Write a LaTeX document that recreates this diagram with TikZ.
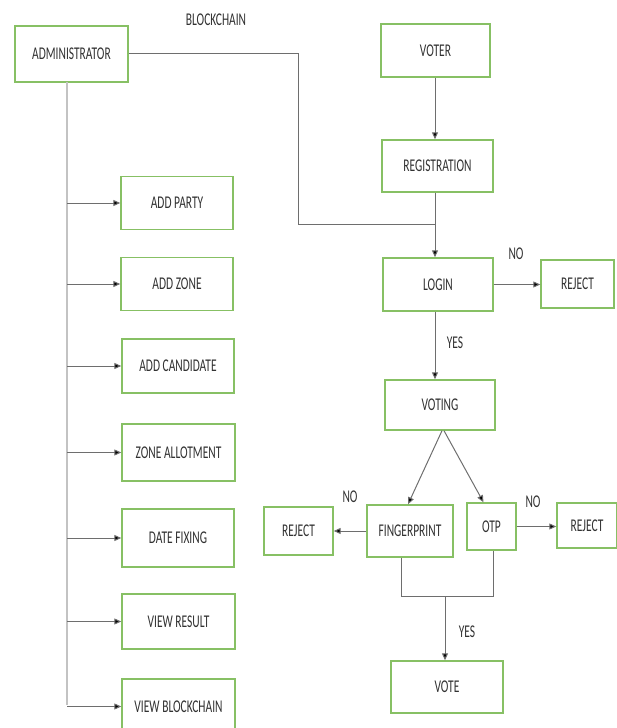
\documentclass[tikz,border=0pt]{standalone}
\usepackage{fontspec}
\usepackage{graphicx}
\setmainfont{Carlito}
\usetikzlibrary{arrows.meta}
\definecolor{bgreen}{RGB}{135,192,100}
\definecolor{lgray}{RGB}{195,195,195}
\definecolor{dgray}{RGB}{110,110,110}
\definecolor{txt}{RGB}{50,50,50}
\newcommand{\sq}[1]{\scalebox{0.64}[1]{#1}}
\begin{document}
\begin{tikzpicture}[x=1bp,y=-1bp,
  box/.style={draw=bgreen, line width=1.4bp, fill=white, inner sep=0pt,
    font=\fontsize{18}{20}\selectfont, text=txt},
  lbl/.style={inner sep=0pt, font=\fontsize{18}{20}\selectfont, text=txt},
  arr/.style={draw=dgray, line width=1bp, -{Triangle[length=7bp,width=6bp,fill=black]}},
  gline/.style={draw=dgray, line width=1bp},
  trunk/.style={draw=lgray, line width=1.4bp}]
\useasboundingbox (0,0) rectangle (617,728);
% left column
\node[box, minimum width=113bp, minimum height=56bp] (adm) at (71.5,54) {\sq{ADMINISTRATOR}};
\node[lbl] (bc) at (216,20) {\sq{BLOCKCHAIN}};
\node[box, minimum width=112bp, minimum height=53bp] (party) at (177,203) {\sq{ADD PARTY}};
\node[box, minimum width=112bp, minimum height=53bp] (zone) at (177,284) {\sq{ADD ZONE}};
\node[box, minimum width=112bp, minimum height=54bp] (cand) at (178,366) {\sq{ADD CANDIDATE}};
\node[box, minimum width=113bp, minimum height=57bp] (allot) at (178.5,452.5) {\sq{ZONE ALLOTMENT}};
\node[box, minimum width=112bp, minimum height=58bp] (date) at (178,538) {\sq{DATE FIXING}};
\node[box, minimum width=113bp, minimum height=55bp] (result) at (178.5,621.5) {\sq{VIEW RESULT}};
\node[box, minimum width=113bp, minimum height=55bp] (viewbc) at (178.5,706.5) {\sq{VIEW BLOCKCHAIN}};
\coordinate (tt) at (67,82);
\coordinate (tb) at (67,705);
\draw[trunk] (tt) -- (tb);
\foreach \n in {party,zone,cand,allot,date,result,viewbc}
  \draw[arr] (\n.west -| tb) -- (\n.west);
% right column
\node[box, minimum width=109bp, minimum height=53bp] (voter) at (435.5,50.5) {\sq{VOTER}};
\node[box, minimum width=111bp, minimum height=52bp] (reg) at (437.5,166) {\sq{REGISTRATION}};
\node[box, minimum width=110bp, minimum height=53bp] (login) at (438,284.5) {\sq{LOGIN}};
\node[box, minimum width=73bp, minimum height=48bp] (rej1) at (577.5,284) {\sq{REJECT}};
\node[box, minimum width=110bp, minimum height=50bp] (voting) at (440,405) {\sq{VOTING}};
\node[box, minimum width=86bp, minimum height=52bp] (fp) at (410,531) {\sq{FINGERPRINT}};
\node[box, minimum width=49bp, minimum height=47bp] (otp) at (491.5,526.5) {\sq{OTP}};
\node[box, minimum width=69bp, minimum height=48bp] (rejL) at (298.5,531) {\sq{REJECT}};
\node[box, minimum width=60bp, minimum height=45bp] (rejR) at (587,525.5) {\sq{REJECT}};
\node[box, minimum width=112bp, minimum height=52bp] (vote) at (447,687) {\sq{VOTE}};
% labels
\node[lbl] (no1) at (516,254) {\sq{NO}};
\node[lbl] (yes1) at (455,343) {\sq{YES}};
\node[lbl] (no2) at (350,497) {\sq{NO}};
\node[lbl] (no3) at (533,502) {\sq{NO}};
\node[lbl] (yes2) at (467,632) {\sq{YES}};
% connectors
\coordinate (vx) at (435,0);
\coordinate (J) at (435,224);
\coordinate (bend) at (298,224);
\draw[arr] (voter.south -| vx) -- (reg.north -| vx);
\draw[gline] (reg.south -| vx) -- (J);
\draw[gline] (adm.east) -| (bend) -- (J);
\draw[arr] (J) -- (login.north -| J);
\draw[arr] (login.east) -- (rej1.west |- login.east);
\draw[arr] (login.south -| vx) -- (voting.north -| vx);
\draw[arr] ([xshift=2bp]voting.south) -- ([xshift=-2bp]fp.north);
\draw[arr] ([xshift=4bp]voting.south) -- ([xshift=-8bp]otp.north);
\draw[arr] (fp.west) -- (rejL.east);
\draw[arr] (otp.east) -- (otp.east -| rejR.west);
\coordinate (m1) at (401,596);
\coordinate (m2) at (493,596);
\coordinate (m) at (445,596);
\draw[gline] (fp.south -| m1) -- (m1) -- (m2) -- (otp.south -| m2);
\draw[arr] (m) -- (m |- vote.north);
\end{tikzpicture}
\end{document}
